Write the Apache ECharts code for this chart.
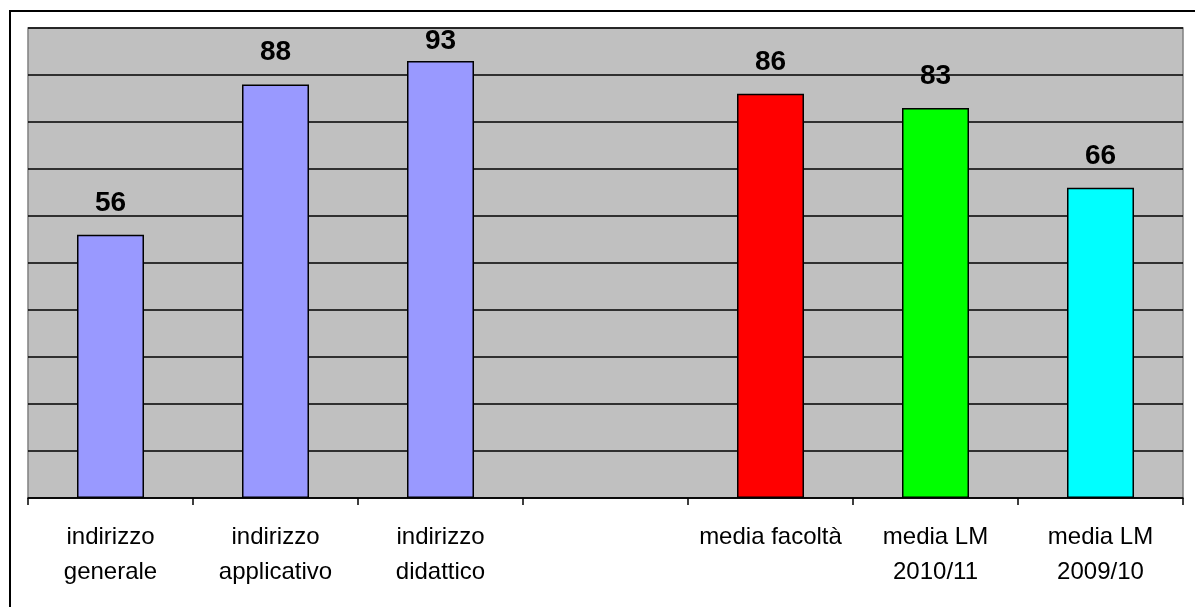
<!DOCTYPE html>
<html>
<head>
<meta charset="utf-8">
<script src="https://cdn.jsdelivr.net/npm/echarts@6/dist/echarts.min.js"></script>
<style>
html,body{margin:0;padding:0;background:#fff;}
#chart{width:1195px;height:607px;}
</style>
</head>
<body>
<div id="chart"></div>
<script>
const categories = ['indirizzo\ngenerale', 'indirizzo\napplicativo', 'indirizzo\ndidattico', '', 'media facoltà', 'media LM\n2010/11', 'media LM\n2009/10'];
const values = [56, 88, 93, null, 86, 83, 66];
const barColors = ['#9999FF', '#9999FF', '#9999FF', '#9999FF', '#FF0000', '#00FF00', '#00FFFF'];

const chart = echarts.init(document.getElementById('chart'), null, {renderer: 'canvas'});
const data = values.map((v, i) => ({
  value: v,
  itemStyle: {color: barColors[i]},
  label: {distance: v >= 90 ? 6 : 18}
}));

chart.setOption({
  animation: false,
  backgroundColor: '#ffffff',
  graphic: [{
    type: 'rect',
    shape: {x: 10, y: 11, width: 1300, height: 700},
    style: {fill: 'none', stroke: '#000', lineWidth: 2},
    silent: true
  }],
  grid: {
    left: 28, right: 12, top: 28, bottom: 109,
    show: true, backgroundColor: '#C0C0C0', borderColor: '#808080', borderWidth: 1.5
  },
  xAxis: {
    type: 'category',
    data: categories,
    boundaryGap: true,
    axisLine: {lineStyle: {color: '#000', width: 1.5}},
    axisTick: {show: true, length: 7, lineStyle: {color: '#000', width: 1.5}},
    axisLabel: {
      interval: 0, margin: 22, color: '#000',
      fontFamily: 'Liberation Sans, Arial, sans-serif', fontSize: 24, lineHeight: 35
    }
  },
  yAxis: {
    type: 'value', min: 0, max: 100, interval: 10,
    axisLine: {show: false}, axisTick: {show: false}, axisLabel: {show: false},
    splitLine: {lineStyle: {color: '#000', width: 1.5}}
  },
  series: [{
    type: 'bar',
    data: data,
    barWidth: 67,
    z: 5,
    itemStyle: {borderColor: '#000', borderWidth: 1.5},
    label: {
      show: true, position: 'top', color: '#000',
      fontFamily: 'Liberation Sans, Arial, sans-serif', fontSize: 28, fontWeight: 'bold'
    }
  }]
});
</script>
</body>
</html>
